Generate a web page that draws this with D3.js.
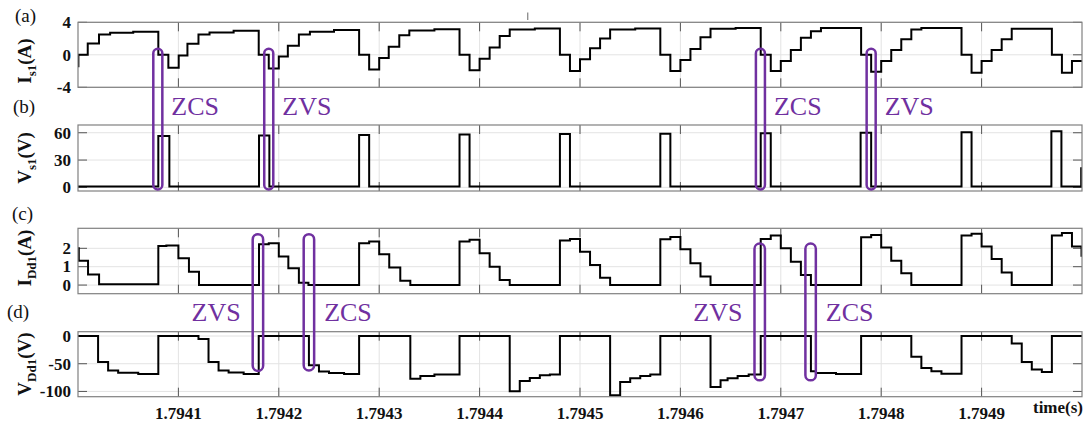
<!DOCTYPE html>
<html>
<head>
<meta charset="utf-8">
<script src="https://cdn.jsdelivr.net/npm/d3@7"></script>
<style>
  body { margin: 0; background: #fff; }
  svg text { font-family: "Liberation Serif", "Times New Roman", serif; }
</style>
</head>
<body>
<svg id="chart" width="1085" height="424"></svg>
<script>
// time axis (s); waveform times are given in microseconds after t0
const t0 = 1.794;
const timeTicks = [1.7941, 1.7942, 1.7943, 1.7944, 1.7945, 1.7946, 1.7947, 1.7948, 1.7949];

// (a) switch current I_s1 (A), step points [us, value]
const is1 = [
  [0, -1.4], [0.4, 0], [9.7, 1.4], [20.9, 2.5], [32, 2.7], [55, 2.85],
  [80, 0], [90, -1.6], [100.3, -0.1], [109, 1.35], [120, 2.5], [131, 2.75], [155, 2.95],
  [180, 0], [190, -1.7], [200, -0.2], [209, 1.1], [220, 2.5], [231, 2.85], [255, 3.05],
  [280, 0], [290, -1.8], [300, -0.4], [309.5, 1.0], [320, 2.4], [330, 3.0], [355, 3.15],
  [380, 0], [390, -1.9], [400, -0.5], [410, 0.9], [420, 2.3], [430, 3.1], [455, 3.25],
  [480, 0], [490, -2.0], [500, -0.55], [510, 0.8], [520, 2.0], [530, 3.1], [555, 3.25],
  [580, 0], [590, -2.0], [600, -0.65], [610, 0.7], [620, 2.15], [630, 3.2], [655, 3.3],
  [680, 0], [690, -2.0], [700, -0.75], [710, 0.6], [720, 2.1], [730, 2.9], [740, 3.3],
  [780, 0], [790, -2.1], [800, -0.75], [810, 0.6], [820, 1.9], [830, 3.1], [840, 3.3],
  [880, 0], [890, -2.2], [900, -0.75], [910, 0.6], [920, 1.9], [930, 3.2],
  [970, 0], [980, -2.2], [990, -0.75], [1000, -0.75]
];
const is1Ticks = [-4, 0, 4];

// (b) switch voltage V_s1 (V)
const vs1 = [
  [0, 1], [80, 56.5], [91, 1], [180.3, 57], [190.6, 1], [280, 57.5], [290, 1],
  [380, 58], [390, 1], [480, 58.5], [490, 1], [580, 59], [590, 1],
  [680, 59.5], [690, 1], [779.5, 60], [790, 1], [880, 60.5], [890, 1],
  [969.5, 61.5], [979.5, 1], [999.2, 21], [1000, 21]
];
const vs1Ticks = [0, 30, 60];

// (c) diode current I_Dd1 (A)
const idd1 = [
  [0, 2.0], [0.8, 1.33], [10, 0.58], [21, 0.04],
  [80, 2.13], [88, 2.16], [100, 1.46], [110.5, 0.73], [120.5, 0],
  [180.3, 2.22], [190, 2.27], [200, 1.55], [209.5, 0.91], [220, 0.13], [229.5, 0],
  [280, 2.28], [290, 2.37], [300, 1.68], [310, 0.95], [321, 0.23], [331, 0],
  [380, 2.37], [390, 2.46], [400, 1.73], [410, 1.0], [420, 0.27], [430, 0],
  [480, 2.42], [490, 2.51], [500, 1.82], [510, 1.09], [520, 0.4], [530, 0],
  [580, 2.5], [590, 2.62], [600, 1.95], [610, 1.19], [620, 0.46], [630, 0],
  [680, 2.51], [690, 2.7], [700, 2.0], [710, 1.27], [720, 0.55], [730, 0],
  [780, 2.6], [790, 2.73], [800, 2.04], [810, 1.33], [820, 0.64], [830, 0],
  [880, 2.7], [890, 2.8], [900, 2.1], [910, 1.42], [920, 0.69], [930, 0],
  [970, 2.7], [980, 2.83], [990, 2.1], [999.5, 1.6], [1000, 1.6]
];
const idd1Ticks = [0, 1, 2];

// (d) diode voltage V_Dd1 (V)
const vdd1 = [
  [0, 0], [20, -46.7], [30, -62], [40, -66.5], [60, -68.5],
  [80, 0], [120, -5.5], [130, -46.7], [140, -62], [150, -66], [165, -68.5],
  [180, 0], [230, -52.7], [240, -64], [250, -66.7], [265, -68.5],
  [280, 0], [331, -77], [341, -72], [355, -69.5],
  [380, 0], [430, -99.5], [440, -81], [450, -75.8], [460, -71], [470, -69.5],
  [480, 0], [530, -107], [540, -83], [550, -76], [560, -72], [570, -69.5],
  [580, 0], [630, -92], [640, -80], [647, -76], [657, -72], [668, -69.5],
  [680, 0], [730, -63.6], [735, -66.7], [755, -68.5],
  [780, 0], [830, -37.6], [840, -57.6], [850, -63.6], [860, -68],
  [880, 0], [930, -13.3], [940, -46.7], [950, -60.6], [960, -65],
  [970, 0], [1000, 0]
];
const vdd1Ticks = [-100, -50, 0];

// soft-switching marks: centre time (us), label
const upperMarkTimes = [79.5, 190, 679.7, 790];
const upperMarkLabels = ["ZCS", "ZVS", "ZCS", "ZVS"];
const lowerMarkTimes = [179.2, 230, 679, 729.7];
const lowerMarkLabels = ["ZVS", "ZCS", "ZVS", "ZCS"];
const lowerMarkTop = [2.77, 2.77, 2.26, 2.26];      // I_Dd1 value at top of mark
const lowerMarkBottom = [-63, -62, -80, -80];       // V_Dd1 value at bottom of mark

const W = 1085, H = 424;
const left = 78, right = 1082;
const purple = "#7030a0";

const svg = d3.select("#chart");

const x = d3.scaleLinear().domain([1.7940, 1.7950]).range([left, right]);
const tx = us => x(t0 + us * 1e-6);

const panels = [
  { id: "a", data: is1, ticks: is1Ticks, domain: [-4, 4], top: 22.3, bottom: 87.3,
    sym: "I", sub: "s1", unit: "(A)", labelY: 61, letterY: 22, letterX: 15 },
  { id: "b", data: vs1, ticks: vs1Ticks, domain: [-4, 68.5], top: 125, bottom: 191,
    sym: "V", sub: "s1", unit: "(V)", labelY: 158, letterY: 113, letterX: 13 },
  { id: "c", data: idd1, ticks: idd1Ticks, domain: [-0.47, 3.09], top: 228.3, bottom: 293.7,
    sym: "I", sub: "Dd1", unit: "(A)", labelY: 258, letterY: 220, letterX: 12 },
  { id: "d", data: vdd1, ticks: vdd1Ticks, domain: [-109.5, 7.8], top: 331.7, bottom: 396.7,
    sym: "V", sub: "Dd1", unit: "(V)", labelY: 364, letterY: 318, letterX: 7 }
];

panels.forEach((p, i) => {
  p.y = d3.scaleLinear().domain(p.domain).range([p.bottom, p.top]);
  const g = svg.append("g");

  // grid
  g.selectAll(".gx").data(timeTicks).enter().append("line")
    .attr("x1", d => x(d)).attr("x2", d => x(d))
    .attr("y1", p.top).attr("y2", p.bottom)
    .attr("stroke", "#e3e3e3").attr("stroke-width", 1);
  g.selectAll(".gy").data(p.ticks).enter().append("line")
    .attr("x1", left).attr("x2", right)
    .attr("y1", d => p.y(d)).attr("y2", d => p.y(d))
    .attr("stroke", "#e3e3e3").attr("stroke-width", 1);

  // ticks inside the box, on all four sides
  timeTicks.forEach(t => {
    g.append("line").attr("x1", x(t)).attr("x2", x(t)).attr("y1", p.top).attr("y2", p.top + 9)
      .attr("stroke", "#555");
    g.append("line").attr("x1", x(t)).attr("x2", x(t)).attr("y1", p.bottom - 9).attr("y2", p.bottom)
      .attr("stroke", "#555");
  });
  p.ticks.forEach(v => {
    g.append("line").attr("x1", left).attr("x2", left + 9).attr("y1", p.y(v)).attr("y2", p.y(v))
      .attr("stroke", "#555");
    g.append("line").attr("x1", right - 9).attr("x2", right).attr("y1", p.y(v)).attr("y2", p.y(v))
      .attr("stroke", "#555");
  });

  // tick labels
  g.selectAll(".yl").data(p.ticks).enter().append("text")
    .attr("x", 71).attr("y", d => p.y(d)).attr("dy", "0.34em")
    .attr("text-anchor", "end").attr("font-size", 17).attr("font-weight", "bold")
    .attr("fill", "#111")
    .text(d => d);

  // waveform
  const clipId = "clip" + p.id;
  svg.append("clipPath").attr("id", clipId).append("rect")
    .attr("x", left).attr("y", p.top).attr("width", right - left).attr("height", p.bottom - p.top);
  const line = d3.line().curve(d3.curveStepAfter)
    .x(d => tx(d[0])).y(d => p.y(d[1]));
  g.append("path").datum(p.data)
    .attr("clip-path", `url(#${clipId})`)
    .attr("d", line).attr("fill", "none")
    .attr("stroke", "#000").attr("stroke-width", 2).attr("stroke-linejoin", "miter");

  // box
  g.append("rect").attr("x", left).attr("y", p.top)
    .attr("width", right - left).attr("height", p.bottom - p.top)
    .attr("fill", "none").attr("stroke", "#808080").attr("stroke-width", 1.2);

  // y label, rotated
  const lab = g.append("text")
    .attr("transform", `translate(31,${p.labelY}) rotate(-90)`)
    .attr("text-anchor", "middle").attr("font-weight", "bold").attr("font-size", 19)
    .attr("fill", "#111");
  lab.append("tspan").text(p.sym);
  lab.append("tspan").attr("font-size", 13).attr("dy", 5).text(p.sub);
  lab.append("tspan").attr("dy", -5).text(p.unit);

  // panel letter
  svg.append("text").attr("x", p.letterX).attr("y", p.letterY)
    .attr("font-size", 19).attr("fill", "#111").text(`(${p.id})`);
});

// x tick labels on the bottom panel
svg.selectAll(".xl").data(timeTicks).enter().append("text")
  .attr("x", d => x(d)).attr("y", 419)
  .attr("text-anchor", "middle").attr("font-size", 17).attr("font-weight", "bold")
  .attr("fill", "#111")
  .text(d => d.toFixed(4));
svg.append("text").attr("x", 1083).attr("y", 413)
  .attr("text-anchor", "end").attr("font-size", 17).attr("font-weight", "bold")
  .attr("fill", "#111").text("time(s)");

// small stray mark above panel (a)
svg.append("line").attr("x1", tx(448)).attr("x2", tx(448)).attr("y1", 12.5).attr("y2", 20)
  .attr("stroke", "#666").attr("stroke-width", 1);

// ZCS / ZVS marks
const pa = panels[0], pb = panels[1], pc = panels[2], pd = panels[3];
const ann = svg.append("g").attr("fill", "none").attr("stroke", purple).attr("stroke-width", 2.5);
upperMarkTimes.forEach((t, i) => {
  const x0 = tx(t - 4.5), x1 = tx(t + 4.5);
  const y0 = pa.y(0.75), y1 = pb.y(-2.3);
  ann.append("rect").attr("x", x0).attr("y", y0).attr("width", x1 - x0).attr("height", y1 - y0)
    .attr("rx", (x1 - x0) / 2).attr("ry", (x1 - x0) / 2);
  svg.append("text").attr("x", x1 + 9).attr("y", 115)
    .attr("font-family", "'Liberation Sans', Arial, sans-serif").attr("font-size", 26)
    .attr("fill", purple).text(upperMarkLabels[i]);
});
lowerMarkTimes.forEach((t, i) => {
  const x0 = tx(t - 5.2), x1 = tx(t + 5.2);
  const y0 = pc.y(lowerMarkTop[i]), y1 = pd.y(lowerMarkBottom[i]);
  ann.append("rect").attr("x", x0).attr("y", y0).attr("width", x1 - x0).attr("height", y1 - y0)
    .attr("rx", (x1 - x0) / 2).attr("ry", (x1 - x0) / 2);
  const isZvs = lowerMarkLabels[i] === "ZVS";
  svg.append("text").attr("x", isZvs ? x0 - 12 : x1 + 10).attr("y", 321)
    .attr("text-anchor", isZvs ? "end" : "start")
    .attr("font-family", "'Liberation Sans', Arial, sans-serif").attr("font-size", 26)
    .attr("fill", purple).text(lowerMarkLabels[i]);
});
</script>
</body>
</html>
